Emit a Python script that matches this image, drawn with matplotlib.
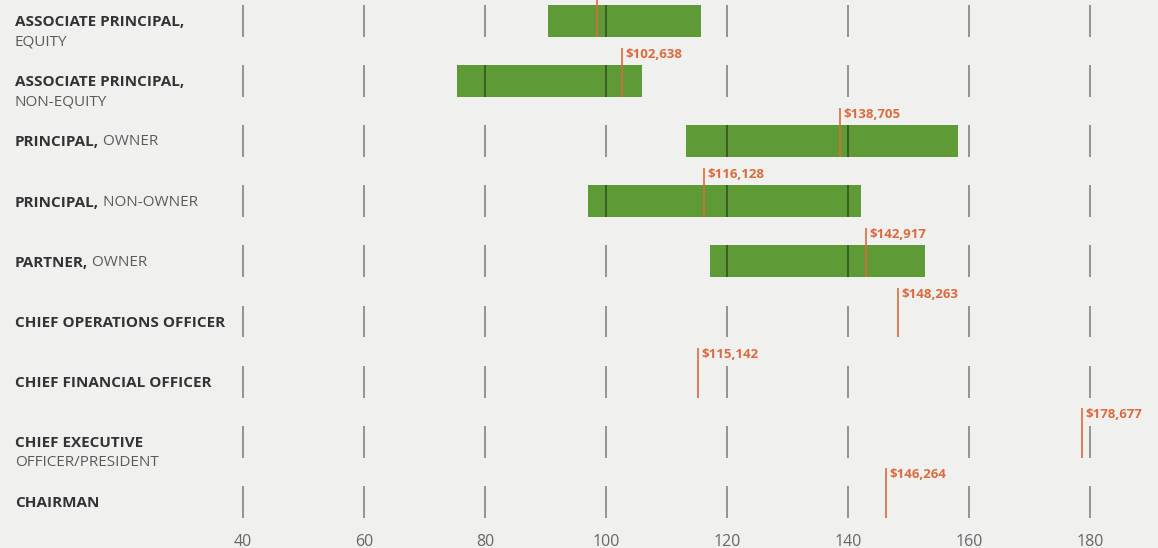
import numpy as np
import matplotlib.pyplot as plt

# salary ranges in $ thousands (low / high of green bar), median marker value
bold_part = ["ASSOCIATE PRINCIPAL,", "ASSOCIATE PRINCIPAL,", "PRINCIPAL,", "PRINCIPAL,",
             "PARTNER,", "CHIEF OPERATIONS OFFICER", "CHIEF FINANCIAL OFFICER",
             "CHIEF EXECUTIVE", "CHAIRMAN"]
light_part = ["EQUITY", "NON-EQUITY", "OWNER", "NON-OWNER", "OWNER", "", "",
              "OFFICER/PRESIDENT", ""]
second_line = [True, True, False, False, False, False, False, True, False]
range_low = [90.4, 75.4, 113.2, 97.0, 117.2, None, None, None, None]
range_high = [115.7, 106.0, 158.2, 142.1, 152.7, None, None, None, None]
median = [98.5, 102.638, 138.705, 116.128, 142.917, 148.263, 115.142, 178.677, 146.264]
median_label = ["$98,5", "$102,638", "$138,705", "$116,128", "$142,917", "$148,263",
                "$115,142", "$178,677", "$146,264"]
ticks = [40, 60, 80, 100, 120, 140, 160, 180]

bg = "#f0f1ef"
green = "#5e9a36"
red = "#dd6a3e"
txt = "#333333"
light = "#5a5a5a"

plt.rcParams['font.family'] = ['Open Sans', 'DejaVu Sans']

fig = plt.figure(figsize=(11.58, 5.48), dpi=100, facecolor=bg)
ax = fig.add_axes([243 / 1158, 20 / 548, 847 / 1158, 528 / 548])
ax.set_facecolor(bg)
ax.set_xlim(40, 180)
ax.set_ylim(8.436, -0.35)

n = len(bold_part)
rows = np.arange(n)
h = 0.53

# green range bars
for i in rows:
    if range_low[i] is not None:
        ax.barh(i, range_high[i] - range_low[i], left=range_low[i], height=h,
                color=green, zorder=2)

# short grid marks on each row (darkened over the bars)
for i in rows:
    ax.vlines(ticks, i - h / 2, i + h / 2, color="black", alpha=0.42, lw=1.3,
              zorder=3, clip_on=False)

# median markers with labels
for i in rows:
    top = i - h / 2 - 0.29
    ax.vlines(median[i], top, i + h / 2, color=red, lw=1.2, zorder=4, clip_on=False)
    ax.text(median[i] + 0.6, top, median_label[i], color=red, fontsize=9.5,
            fontweight="bold", ha="left", va="top", zorder=5, clip_on=False)

# row labels: bold first part, light second part
lab_x = -228 / 847
ytrans = ax.get_yaxis_transform()
for i in rows:
    t = ax.text(lab_x, i + 0.02, bold_part[i], transform=ytrans, fontsize=11,
                fontweight="bold", color=txt, va="center")
    if not light_part[i]:
        continue
    if second_line[i]:
        ax.text(lab_x, i + 0.35, light_part[i], transform=ytrans, fontsize=11,
                color=light, va="center")
    else:
        ax.annotate(" " + light_part[i], xy=(1, 0), xycoords=t, fontsize=11,
                    color=light, va="bottom", ha="left")

ax.set_xticks(ticks)
ax.set_xticklabels([str(v) for v in ticks], fontsize=11.5, color="#666666")
ax.tick_params(axis="x", length=0, pad=4)
ax.set_yticks([])
for s in ax.spines.values():
    s.set_visible(False)

fig.savefig("out.png", dpi=100, facecolor=bg)
